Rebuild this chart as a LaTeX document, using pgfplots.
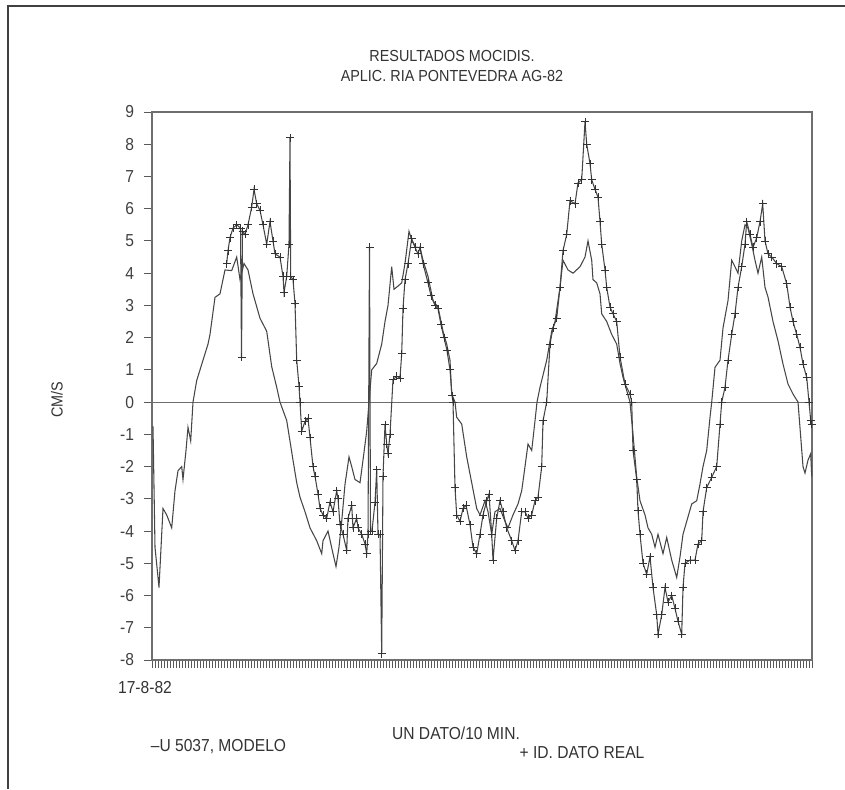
\documentclass[border=0pt]{standalone}
\usepackage{fontspec}
\setmainfont{Liberation Sans}[FakeStretch=0.9]
\usepackage{pgfplots}
\pgfplotsset{compat=1.18}
\definecolor{axgray}{RGB}{110,110,110}
\definecolor{datgray}{RGB}{70,70,70}
\begin{document}
\begin{tikzpicture}[x=0.75pt,y=0.75pt]
\useasboundingbox (0,0) rectangle (845,789);
\draw[line width=1.5pt, color=black!75] (8,0) -- (8,783) -- (845,783);
\coordinate (axsw) at (152,129);
\begin{axis}[
  at={(axsw)}, anchor=south west,
  scale only axis, width=495pt, height=411pt,
  xmin=152, xmax=812, ymin=-8, ymax=9,
  ytick={-8,-7,...,9},
  xtick={152,155,...,812},
  xticklabels={},
  tick align=outside,
  xtick pos=bottom, ytick pos=left,
  major tick length=6pt,
  axis line style={axgray, line width=0.9pt},
  every tick/.style={black!65, line width=0.75pt},
  /pgf/number format/assume math mode=true,
  yticklabel style={font=\fontsize{13}{13}\selectfont, color=black!75, xshift=-4pt},
  clip=true,
]
\addplot[axgray, line width=0.8pt, forget plot] coordinates {(152,0) (812,0)};
% model
\addplot[datgray, line width=0.8pt, mark=none] coordinates {
(153,-0.75) (155,-4.5) (159,-5.75) (163,-3.3) (166.7,-3.5) (171.7,-3.9) (175,-2.75)
(178,-2.13) (181.7,-2.0) (183,-2.4) (186,-1.5) (188,-0.78) (190.7,-1.2) (193,0)
(196.7,0.67) (203,1.3) (208,1.8) (210,2.1) (215,3.25) (220,3.36) (225,4.1) (231.7,4.08)
(236.7,4.5) (240,3.8) (244,4.3) (248,4.1) (253,3.36) (260,2.6) (266.7,2.2) (271.7,1.1)
(276.7,0.46) (280,0) (286.7,-0.57) (293,-1.8) (296.7,-2.5) (300,-2.95) (305,-3.4)
(310,-3.9) (316.7,-4.3) (321.7,-4.7) (323,-4.3) (328,-4.0) (333,-4.7) (336,-5.1)
(339,-4.5) (341.7,-3.7) (345,-2.55) (349,-1.7) (351.7,-2.0) (355,-2.4) (360,-2.5)
(363,-1.8) (366.7,-0.9) (369,0) (371.7,1.0) (376.7,1.2) (381.7,1.8) (385,2.5) (388,3.0)
(391.7,4.2) (394,3.5) (398,3.6) (401.7,3.7) (405,4.3) (409,5.3) (412,5.0) (416,4.8)
(420,4.8) (423,4.4) (428,3.9) (433,3.15) (438,2.95) (443,2.2) (446.7,1.8) (450,1.3)
(451.7,0.25) (455,0) (456.7,-0.47) (461.7,-0.68) (466.7,-1.7) (471.7,-2.5) (476.7,-3.3)
(480,-3.5) (485,-3.06) (488,-3.4) (491.7,-4.1) (495,-3.4) (500,-3.3) (505,-3.7)
(508,-3.9) (513,-3.5) (518,-3.16) (521.7,-2.75) (525,-2.0) (528,-1.3) (531.7,-1.5)
(535,-0.58) (537,0) (540,0.46) (546.7,1.3) (551.7,2.2) (555,2.5) (560,3.56) (563,4.4)
(568,4.1) (573,4.0) (580,4.2) (585,4.5) (588,5.0) (591.7,4.4) (593,3.8) (596.7,3.7)
(600,3.36) (601.7,2.74) (606.7,2.5) (611.7,2.1) (616.7,1.8) (620,1.2) (623,0.77)
(626.7,0.36) (630,0) (633,-1.0) (636.7,-2.33) (640,-3.06) (645,-3.5) (648,-3.9)
(651.7,-4.1) (655,-4.5) (658,-4.1) (663,-4.7) (666.7,-4.2) (671.7,-4.9) (676.7,-5.44)
(680,-4.8) (683,-4.1) (686.7,-3.7) (691.7,-3.16) (696.7,-3.06) (700,-2.54) (703,-2.0)
(706.7,-1.5) (710,-0.47) (711.7,0) (715,1.08) (720,1.3) (723,2.3) (728,3.15) (731.7,4.4)
(735,4.2) (738,4.0) (741.7,5.0) (745,5.5) (748,5.4) (751.7,4.9) (755,4.4) (758,4.0)
(761.7,4.5) (765,3.56) (768,3.26) (773,2.5) (778,1.9) (783,1.18) (788,0.56) (793,0.25)
(798,0) (800,-0.8) (803,-2.0) (805,-2.2) (808,-1.8) (810.7,-1.6) (811.7,-2.3)
};
% real data
\addplot[datgray, line width=0.8pt, mark=+, mark size=3pt, mark options={black!80, line width=0.6pt}] coordinates {
(226.7,4.3) (228,4.7) (230,5.1) (233,5.4) (236.7,5.5) (240.5,5.4) (241.5,1.4) (242.5,5.3)
(245,5.2) (248,5.5) (251.7,6.05) (254,6.6) (256.7,6.15) (260,5.95) (263,5.5) (266.7,4.9)
(270,5.6) (273,5.0) (275,4.6) (280,4.5) (283,3.9) (284,3.4) (286.7,3.9) (289,4.9)
(290,8.2) (290.7,3.9) (293,3.8) (295,3.05) (296.7,1.3) (299,0.5) (300,0) (301.7,-0.9)
(305,-0.6) (308,-0.5) (310,-1.1) (313,-2.0) (315,-2.3) (318,-2.85) (320,-3.3) (323,-3.5)
(326.7,-3.6) (330,-3.1) (333,-3.4) (336.7,-2.75) (338,-3.0) (340,-3.8) (343,-4.1)
(346.7,-4.6) (348,-3.6) (351.7,-3.2) (353,-3.9) (356.7,-3.6) (358,-3.9) (361.7,-4.1)
(365,-4.4) (366.7,-4.7) (368,-4.1) (369.5,4.8) (370.5,-4.0) (372,-4.0) (375,-3.1)
(376.7,-2.1) (378,-4.1) (380,-4.1) (381.7,-7.8) (383,-2.3) (385,-0.7) (386.7,-1.3)
(388,-1.6) (390,-1.0) (393,0.7) (396.7,0.8) (400,0.75) (401.7,1.5) (403,2.9) (405,3.8)
(408,4.3) (411.7,5.07) (415,4.8) (418,4.6) (420,4.8) (423,4.3) (428,3.7) (431,3.3)
(435,3.0) (438,2.9) (441,2.4) (444,2.0) (447,1.6) (450,1.0) (452,0.2) (453,0)
(455,-2.65) (456.7,-3.5) (460,-3.7) (463,-3.3) (466,-3.2) (470,-3.8) (473,-4.5)
(476.7,-4.7) (480,-4.1) (483,-3.5) (486.7,-3.06) (489,-2.85) (491.7,-4.1) (493,-4.9)
(496.7,-3.6) (500,-3.06) (503,-3.4) (506.7,-3.9) (511.7,-4.3) (515,-4.6) (518,-4.3)
(521.7,-3.4) (525,-3.4) (528,-3.6) (531.7,-3.5) (535,-3.06) (538,-2.95) (541.7,-2.0)
(543,-0.58) (546.7,0) (550,1.8) (553,2.3) (556.7,2.6) (560,3.56) (563,4.7) (566.7,5.2)
(570,6.25) (575,6.15) (578,6.8) (581.7,6.9) (585,8.7) (586.7,8.0) (590,7.4) (591.7,6.9)
(595,6.6) (598,6.36) (600,5.6) (601.7,4.9) (605,4.1) (606.7,3.56) (610,2.95) (613,2.74)
(616.7,2.5) (620,1.4) (625,0.56) (630,0.25) (631.7,0) (633,-1.5) (636.7,-2.4)
(638,-3.37) (640,-4.1) (643,-5.0) (646.7,-5.34) (650,-4.8) (653,-5.75) (656.7,-6.6)
(658,-7.2) (661.7,-6.6) (665,-5.75) (668,-6.2) (671.7,-6.0) (675,-6.4) (678,-6.8)
(681.7,-7.2) (683,-5.75) (685,-5.0) (690,-4.9) (695,-4.9) (698,-4.4) (701.7,-4.3)
(703,-3.4) (706.7,-2.65) (711.7,-2.33) (716.7,-2.0) (720,-0.68) (721.7,0) (725,0.46)
(728,1.3) (731.7,2.1) (735,2.74) (738,3.56) (741.7,4.2) (745,4.9) (746.7,5.6) (750,5.2)
(753,4.8) (756.7,5.1) (760,5.6) (762.7,6.15) (765,5.0) (768,4.6) (771.7,4.5) (776.7,4.3)
(781.7,4.2) (786.7,3.67) (790,2.95) (793,2.5) (796.7,2.1) (800,1.7) (803,1.18)
(806.7,0.77) (809,0) (810.7,-0.57) (811.7,-0.68)
};
\end{axis}
\begin{scope}[every node/.style={inner sep=0pt, text=black!80}]
\node[font=\fontsize{12}{14}\selectfont] at (452,733) {RESULTADOS MOCIDIS.};
\node[font=\fontsize{12}{14}\selectfont] at (452,713) {APLIC. RIA PONTEVEDRA AG-82};
\node[font=\fontsize{12}{14}\selectfont, rotate=90] at (57,389) {CM/S};
\node[font=\fontsize{13}{15}\selectfont] at (145,101) {17-8-82};
\node[font=\fontsize{13}{15}\selectfont] at (456,56) {UN DATO/10 MIN.};
\node[font=\fontsize{13}{15}\selectfont] at (218.5,42) {--U 5037, MODELO};
\node[font=\fontsize{13}{15}\selectfont] at (582,36) {+ ID. DATO REAL};
\end{scope}
\end{tikzpicture}
\end{document}
